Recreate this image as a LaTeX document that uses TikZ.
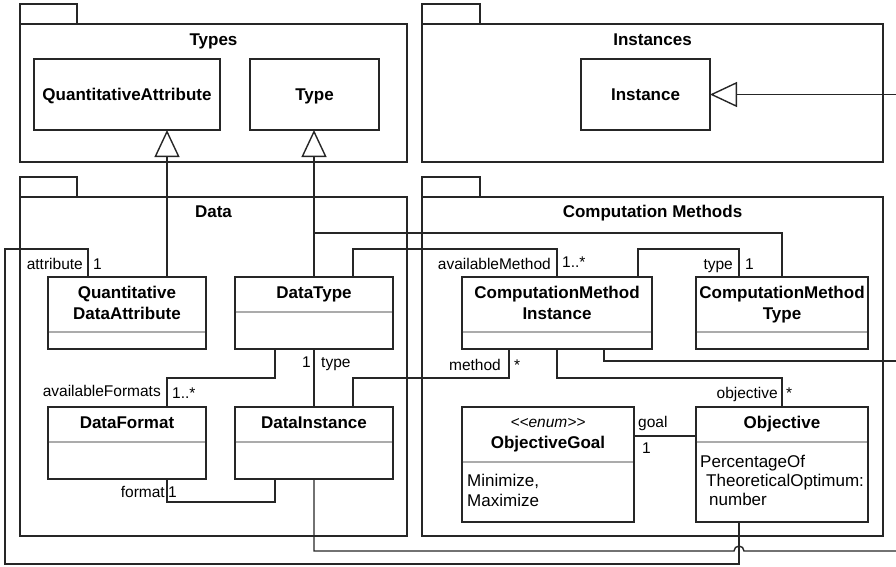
\documentclass[tikz,border=0pt]{standalone}
\usepackage{fontspec}
\setmainfont{Liberation Sans}
\usetikzlibrary{arrows.meta}

\begin{document}
\begin{tikzpicture}[x=1pt,y=-1pt,
  ln/.style={draw=black!85, line width=1.4pt},
  box/.style={ln, rectangle, inner sep=0pt, outer sep=0pt, anchor=north west},
  cname/.style={font=\fontsize{17}{21}\selectfont\bfseries, inner sep=0pt, anchor=base},
  ptitle/.style={cname},
  stereo/.style={font=\fontsize{15.5}{18}\selectfont\itshape, inner sep=0pt, anchor=base},
  role/.style={font=\fontsize{15.5}{18}\selectfont, inner sep=0pt},
  attr/.style={font=\fontsize{17}{20}\selectfont, inner sep=0pt, anchor=base west},
  sep/.style={draw=black!33, line width=1.3pt, shorten <=0.7pt, shorten >=0.7pt},
  link/.style={ln},
  gen/.style={ln, -{Triangle[open, length=27pt, width=25pt, line width=1.4pt]}},
  ]
\useasboundingbox (0,0) rectangle (896,566);

% ---------- packages ----------
\node[box, minimum width=57pt, minimum height=20pt] (typesTab) at (20,4) {};
\node[box, minimum width=387pt, minimum height=138pt] (types) at (20,24) {};
\node[ptitle] (typesT) at (213.5,45) {Types};

\node[box, minimum width=58pt, minimum height=20pt] (instTab) at (422,4) {};
\node[box, minimum width=461pt, minimum height=138pt] (instances) at (422,24) {};
\node[ptitle] (instancesT) at (652.5,45) {Instances};

\node[box, minimum width=57pt, minimum height=20pt] (dataTab) at (20,177) {};
\node[box, minimum width=387pt, minimum height=339pt] (data) at (20,197) {};
\node[ptitle] (dataT) at (213.5,217) {Data};

\node[box, minimum width=58pt, minimum height=20pt] (cmTab) at (422,177) {};
\node[box, minimum width=461pt, minimum height=339pt] (cm) at (422,197) {};
\node[ptitle] (cmT) at (652.5,217) {Computation Methods};

% ---------- classes ----------
\node[box, minimum width=186pt, minimum height=71pt] (qa) at (34,59) {};
\node[cname] (qaN) at (127,100) {QuantitativeAttribute};

\node[box, minimum width=129pt, minimum height=71pt] (type) at (250,59) {};
\node[cname] (typeN) at (314.5,100) {Type};

\node[box, minimum width=129pt, minimum height=71pt] (inst) at (581,59) {};
\node[cname] (instN) at (645.5,100) {Instance};

\node[box, minimum width=158pt, minimum height=72pt] (qda) at (48,277) {};
\node[cname] (qdaN1) at (127,298) {Quantitative};
\node[cname] (qdaN2) at (127,319) {DataAttribute};
\draw[sep] (qda.west |- 0,332) -- (qda.east |- 0,332);

\node[box, minimum width=158pt, minimum height=72pt] (dtype) at (235,277) {};
\node[cname] (dtypeN) at (314,298) {DataType};
\draw[sep] (dtype.west |- 0,312) -- (dtype.east |- 0,312);

\node[box, minimum width=158pt, minimum height=72pt] (dfmt) at (48,407) {};
\node[cname] (dfmtN) at (127,428) {DataFormat};
\draw[sep] (dfmt.west |- 0,442) -- (dfmt.east |- 0,442);

\node[box, minimum width=158pt, minimum height=72pt] (dinst) at (235,407) {};
\node[cname] (dinstN) at (314,428) {DataInstance};
\draw[sep] (dinst.west |- 0,442) -- (dinst.east |- 0,442);

\node[box, minimum width=190pt, minimum height=72pt] (cmi) at (462,277) {};
\node[cname] (cmiN1) at (557,298) {ComputationMethod};
\node[cname] (cmiN2) at (557,319) {Instance};
\draw[sep] (cmi.west |- 0,332) -- (cmi.east |- 0,332);

\node[box, minimum width=172pt, minimum height=72pt] (cmt) at (696,277) {};
\node[cname] (cmtN1) at (782,298) {ComputationMethod};
\node[cname] (cmtN2) at (782,319) {Type};
\draw[sep] (cmt.west |- 0,332) -- (cmt.east |- 0,332);

\node[box, minimum width=172pt, minimum height=115pt] (ogoal) at (462,407) {};
\node[stereo] (ogoalS) at (548,427) {<\kern0pt<enum>\kern0pt>};
\node[cname] (ogoalN) at (548,448) {ObjectiveGoal};
\draw[sep] (ogoal.west |- 0,462) -- (ogoal.east |- 0,462);
\node[attr] (ogoalA1) at (467,486) {Minimize,};
\node[attr] (ogoalA2) at (467,506) {Maximize};

\node[box, minimum width=172pt, minimum height=115pt] (obj) at (696,407) {};
\node[cname] (objN) at (782,428) {Objective};
\draw[sep] (obj.west |- 0,442) -- (obj.east |- 0,442);
\node[attr] (objA1) at (700,467) {PercentageOf};
\node[attr] (objA2) at (706,486) {TheoreticalOptimum:};
\node[attr] (objA3) at (709,505) {number};

% ---------- generalizations ----------
\draw[gen] (167,0 |- qda.north) -- (167,0 |- qa.south);
\draw[gen] (314,0 |- dtype.north) -- (314,0 |- type.south);
\draw[link] (782,0 |- cmt.north) -- (782,233) -- (314,233);
\coordinate (instR) at (900,94.5);
\draw[gen] (instR) -- (inst.east);
\draw[link] (604,0 |- cmi.south) -- (604,361) -- (900,361);
\draw[link] (314,0 |- dinst.south) -- (314,551) -- (734,551)
  arc[start angle=180, end angle=0, radius=5pt] -- (900,551);

% ---------- associations ----------
\draw[link] (88,0 |- qda.north) -- (88,249) -- (5,249) -- (5,564)
  -- (739,564) -- (739,0 |- obj.south);
\draw[link] (353,0 |- dtype.north) -- (353,249) -- (557,249) -- (557,0 |- cmi.north);
\draw[link] (638,0 |- cmi.north) -- (638,249) -- (739,249) -- (739,0 |- cmt.north);
\draw[link] (509,0 |- cmi.south) -- (509,378) -- (353,378) -- (353,0 |- dinst.north);
\draw[link] (557,0 |- cmi.south) -- (557,378) -- (782,378) -- (782,0 |- obj.north);
\draw[link] (275,0 |- dtype.south) -- (275,378) -- (167,378) -- (167,0 |- dfmt.north);
\draw[link] (dtype.south) -- (dinst.north);
\draw[link] (167,0 |- dfmt.south) -- (167,502) -- (275,502) -- (275,0 |- dinst.south);
\draw[link] (ogoal.east |- 0,436) -- (obj.west |- 0,436);

% ---------- role names and multiplicities ----------
\node[role, anchor=base east] (rAttr) at (83,269) {attribute};
\node[role, anchor=base west] (mAttr) at (93,269) {1};
\node[role, anchor=base east] (rAvM) at (551,269) {availableMethod};
\node[role, anchor=base west] (mAvM) at (562,267) {1..*};
\node[role, anchor=base east] (rCmt) at (733,269) {type};
\node[role, anchor=base west] (mCmt) at (745,269) {1};
\node[role, anchor=base east] (mDt) at (311,367) {1};
\node[role, anchor=base west] (rDt) at (321,367) {type};
\node[role, anchor=base east] (rAvF) at (161,396) {availableFormats};
\node[role, anchor=base west] (mAvF) at (172,398) {1..*};
\node[role, anchor=base east] (rMeth) at (501,370) {method};
\node[role, anchor=base west] (mMeth) at (514,370) {*};
\node[role, anchor=base east] (rObj) at (778,398) {objective};
\node[role, anchor=base west] (mObj) at (786,398) {*};
\node[role, anchor=base east] (rFmt) at (165,497) {format};
\node[role, anchor=base west] (mFmt) at (168,497) {1};
\node[role, anchor=base west] (rGoal) at (638,427) {goal};
\node[role, anchor=base west] (mGoal) at (642,453) {1};
\end{tikzpicture}
\end{document}
